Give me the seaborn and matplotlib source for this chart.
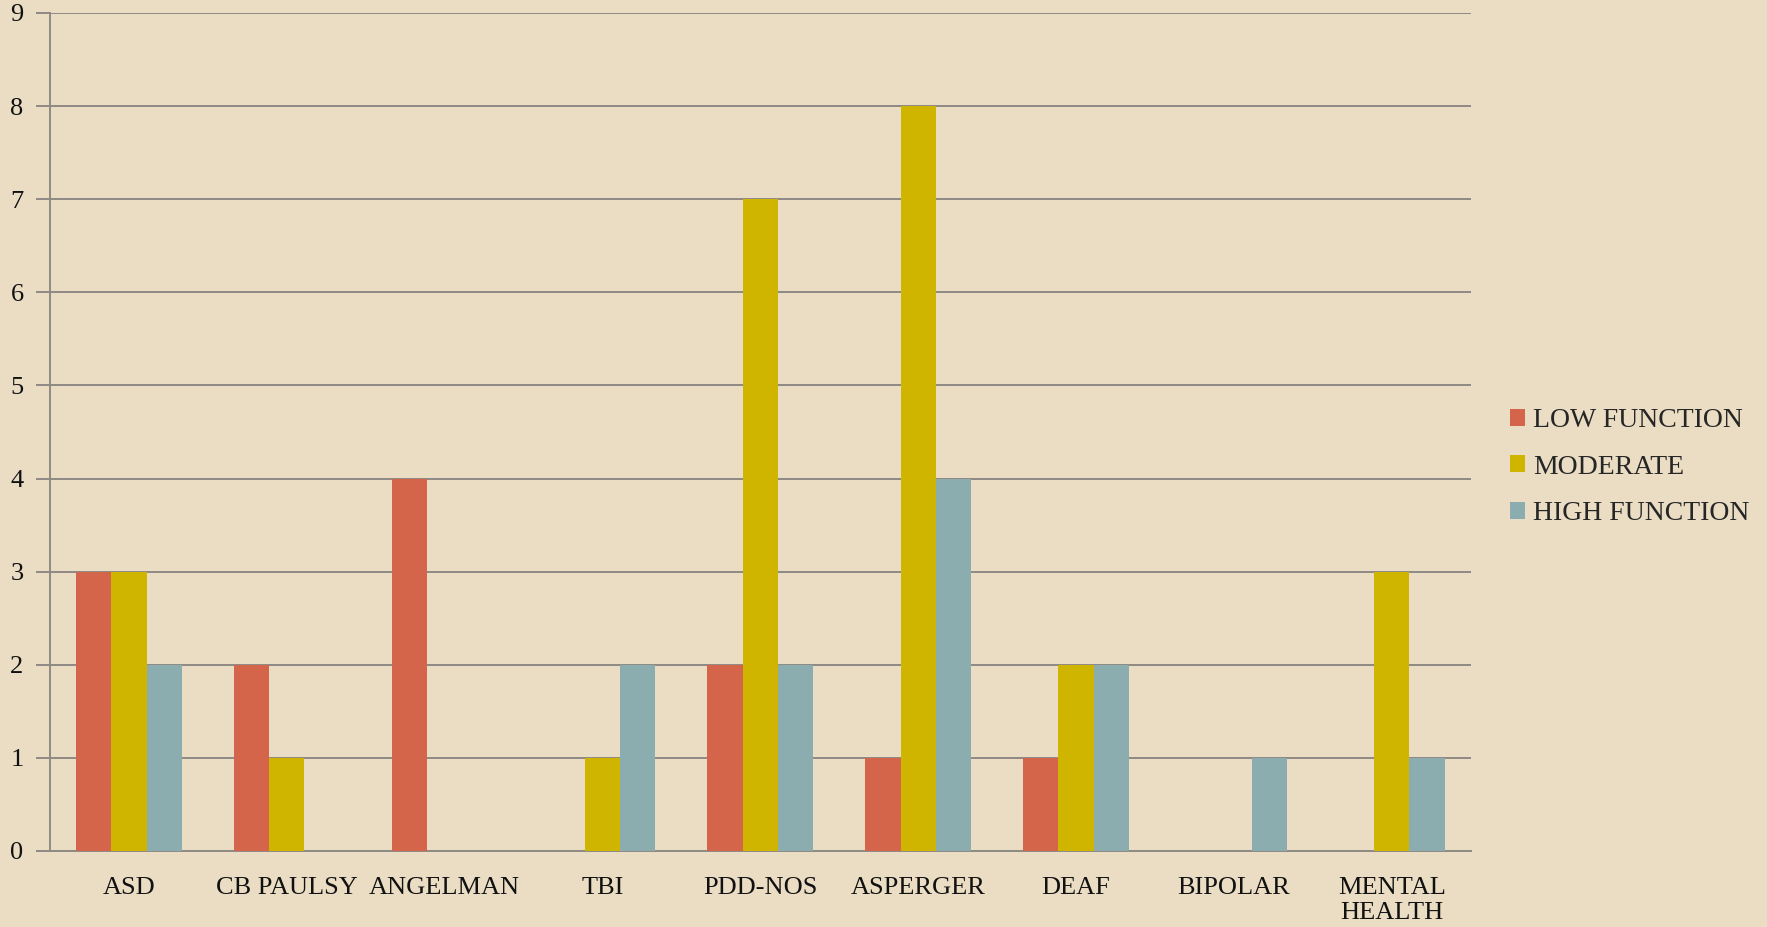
import pandas as pd
import matplotlib
matplotlib.use('Agg')
import matplotlib.pyplot as plt
import seaborn as sns

# Chart data
categories = ['ASD', 'CB PAULSY', 'ANGELMAN', 'TBI', 'PDD-NOS',
              'ASPERGER', 'DEAF', 'BIPOLAR', 'MENTAL\nHEALTH']
series_names = ['LOW FUNCTION', 'MODERATE', 'HIGH FUNCTION']
low_function = [3, 2, 4, 0, 2, 1, 1, 0, 0]
moderate = [3, 1, 0, 1, 7, 8, 2, 0, 3]
high_function = [2, 0, 0, 2, 2, 4, 2, 1, 1]
colors = ['#D4644A', '#CFB500', '#8CADB0']

# Long-form table for seaborn
df = pd.DataFrame({
    'Category': categories * 3,
    'Level': [series_names[0]] * 9 + [series_names[1]] * 9 + [series_names[2]] * 9,
    'Count': low_function + moderate + high_function,
})

bg = '#EADDC4'
grid_col = '#8E8A84'

sns.set_theme(style='white')
plt.rcParams['font.family'] = ['Liberation Serif', 'DejaVu Serif']

fig = plt.figure(figsize=(17.67, 9.27), dpi=100, facecolor=bg)
ax = fig.add_axes([0.0283, 0.082, 0.804, 0.904])
ax.set_facecolor(bg)

sns.barplot(data=df, x='Category', y='Count', hue='Level', order=categories,
            hue_order=series_names, palette=colors, width=0.67, gap=0,
            saturation=1, linewidth=0, ax=ax, zorder=3)

ax.set_xlim(-0.5, 8.5)
ax.set_ylim(0, 9)
ax.set_yticks(range(0, 10))
ax.yaxis.grid(True, color=grid_col, linewidth=1.4, zorder=0)
ax.set_axisbelow(True)

# category boundary ticks
ax.set_xticks([i - 0.5 for i in range(10)], minor=True)
ax.tick_params(axis='x', which='major', length=0, pad=18.5, labelsize=19, colors='#111111')
ax.tick_params(axis='x', which='minor', length=10, width=1.4, color=grid_col, direction='out')
ax.tick_params(axis='y', length=10, width=1.4, color=grid_col, pad=9,
               labelsize=19, colors='#111111', left=True)

for side in ['top', 'right']:
    ax.spines[side].set_visible(False)
for side in ['left', 'bottom']:
    ax.spines[side].set_color(grid_col)
    ax.spines[side].set_linewidth(1.4)

ax.set_xlabel('')
ax.set_ylabel('')

leg = ax.legend(loc='center left', bbox_to_anchor=(1.01, 0.458), frameon=False,
                fontsize=20, handlelength=0.55, handleheight=0.55,
                handletextpad=0.3, labelspacing=0.78)

plt.savefig('out.png', dpi=100, facecolor=bg)
plt.close()
